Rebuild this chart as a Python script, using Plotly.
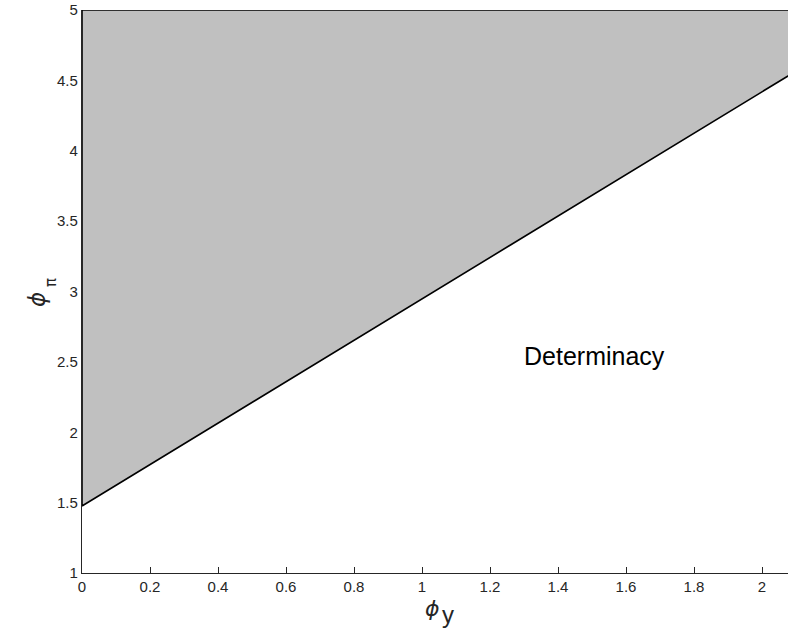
import plotly.graph_objects as go

# Boundary of the (shaded) indeterminacy region
phi_y = [0.0, 2.1]
phi_pi_boundary = [1.476, 4.566]
phi_pi_top = 5.0

x_ticks = [0, 0.2, 0.4, 0.6, 0.8, 1, 1.2, 1.4, 1.6, 1.8, 2]
x_tick_labels = ["0", "0.2", "0.4", "0.6", "0.8", "1", "1.2", "1.4", "1.6", "1.8", "2"]
y_ticks = [1, 1.5, 2, 2.5, 3, 3.5, 4, 4.5, 5]
y_tick_labels = ["1", "1.5", "2", "2.5", "3", "3.5", "4", "4.5", "5"]

region_label = "Determinacy"

fig = go.Figure()

# shaded region
fig.add_trace(go.Scatter(
    x=[phi_y[0], phi_y[1], phi_y[1], phi_y[0], phi_y[0]],
    y=[phi_pi_boundary[0], phi_pi_boundary[1], phi_pi_top, phi_pi_top, phi_pi_boundary[0]],
    mode="lines", fill="toself", fillcolor="#c0c0c0",
    line=dict(color="#000000", width=1.6),
    hoverinfo="skip", showlegend=False,
))

fig.add_annotation(x=1.507, y=2.545, text=region_label, showarrow=False,
                   font=dict(family="Liberation Sans, Arial", size=25, color="#000000"))


def px(xp):
    return (xp - 82) / 706


def py(yp):
    return (573 - yp) / 563


# axis titles (phi with subscripts)
fig.add_annotation(xref="paper", yref="paper", x=px(432), y=py(622),
                   text="<i>ϕ</i>", showarrow=False, borderpad=0,
                   font=dict(family="DejaVu Sans, sans-serif", size=22, color="#262626"))
fig.add_annotation(xref="paper", yref="paper", x=px(448), y=py(629),
                   text="y", showarrow=False, borderpad=0,
                   font=dict(family="Liberation Sans, Arial", size=24, color="#262626"))
fig.add_annotation(xref="paper", yref="paper", x=px(22), y=py(300),
                   text="<i>ϕ</i>", showarrow=False, textangle=-90,
                   font=dict(family="DejaVu Sans, sans-serif", size=23, color="#262626"))
fig.add_annotation(xref="paper", yref="paper", x=px(40), y=py(283),
                   text="π", showarrow=False, textangle=-90,
                   font=dict(family="DejaVu Sans, sans-serif", size=15, color="#262626"))

axis_common = dict(
    showgrid=False, zeroline=False, showline=True, linecolor="#262626", linewidth=1.3,
    ticks="inside", ticklen=6, tickcolor="#262626", tickwidth=1.3,
    tickfont=dict(family="Liberation Sans, Arial", size=15, color="#262626"),
    layer="below traces",
)

fig.update_layout(
    width=788, height=642,
    margin=dict(l=82, r=0, t=10, b=69),
    paper_bgcolor="white", plot_bgcolor="white",
    xaxis=dict(range=[0, 706 / 340], tickvals=x_ticks, ticktext=x_tick_labels, **axis_common),
    yaxis=dict(range=[1, 5], tickvals=y_ticks, ticktext=y_tick_labels, **axis_common),
)

fig.write_html("out.html")
